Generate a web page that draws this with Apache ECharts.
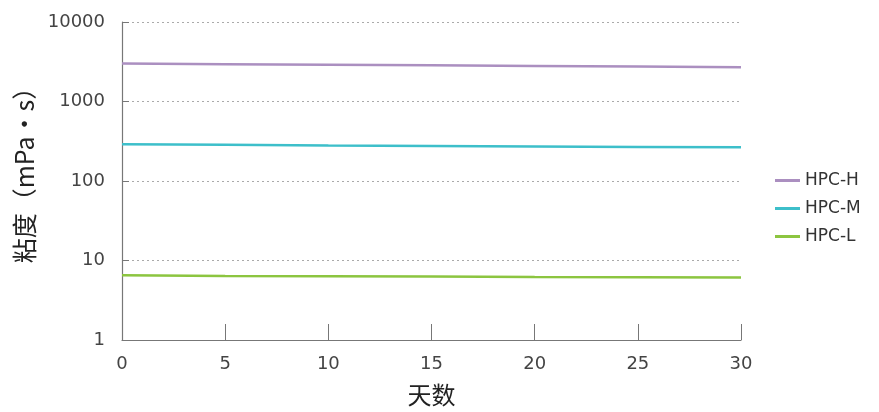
<!DOCTYPE html>
<html>
<head>
<meta charset="utf-8">
<script src="https://cdn.jsdelivr.net/npm/echarts@6/dist/echarts.min.js"></script>
<style>
html,body{margin:0;padding:0;background:#fff;}
#chart{width:879px;height:412px;}
</style>
</head>
<body>
<div id="chart"></div>
<script>
// Viscosity over storage time for three HPC grades
const days = [0, 5, 10, 15, 20, 25, 30];
const hpcH = [3000, 2950, 2900, 2850, 2800, 2750, 2700];
const hpcM = [290, 285, 280, 276, 272, 268, 265];
const hpcL = [6.5, 6.4, 6.35, 6.3, 6.2, 6.15, 6.1];
const seriesNames = ['HPC-H', 'HPC-M', 'HPC-L'];
const seriesColors = ['#ab8fc0', '#3dbfca', '#8cc540'];

const cjkFont = '"Noto Sans CJK SC", sans-serif';
const latinFont = '"DejaVu Sans", "Liberation Sans", sans-serif';
const pairs = vals => days.map((d, i) => [d, vals[i]]);

const chart = echarts.init(document.getElementById('chart'));
chart.setOption({
  animation: false,
  textStyle: { fontFamily: cjkFont },
  grid: { left: 122, right: 138, top: 22, bottom: 70, containLabel: false },
  legend: {
    orient: 'vertical',
    left: 775,
    top: 172,
    padding: 0,
    itemWidth: 25,
    itemHeight: 3,
    itemGap: 11,
    icon: 'rect',
    textStyle: { fontSize: 17, color: '#333', fontFamily: latinFont },
    data: seriesNames
  },
  xAxis: {
    type: 'value',
    min: 0, max: 30, interval: 5,
    name: '天数',
    nameLocation: 'middle',
    nameGap: 43,
    nameTextStyle: { fontSize: 24, color: '#222' },
    axisLine: { lineStyle: { color: '#777', width: 1.2 } },
    axisTick: { show: true, inside: true, length: 16, lineStyle: { color: '#777' } },
    axisLabel: { fontSize: 18, color: '#444', margin: 15, fontFamily: latinFont },
    splitLine: { show: false }
  },
  yAxis: {
    type: 'log',
    logBase: 10,
    min: 1, max: 10000,
    name: '粘度（mPa・s）',
    nameLocation: 'middle',
    nameRotate: 90,
    nameGap: 85,
    nameTextStyle: { fontSize: 25, color: '#222', padding: [0, 0, 0, 24] },
    axisLine: { show: true, lineStyle: { color: '#777', width: 1.2 } },
    axisTick: { show: true, inside: true, length: 7, lineStyle: { color: '#777' } },
    axisLabel: {
      fontSize: 18, color: '#444', margin: 17, fontFamily: latinFont,
      formatter: v => String(v)
    },
    splitLine: { show: true, lineStyle: { color: '#aaa', type: [2, 3], width: 1 } }
  },
  series: [hpcH, hpcM, hpcL].map((vals, i) => ({
    name: seriesNames[i],
    type: 'line',
    data: pairs(vals),
    showSymbol: false,
    symbol: 'none',
    lineStyle: { color: seriesColors[i], width: 2.5 },
    itemStyle: { color: seriesColors[i] }
  }))
});
</script>
</body>
</html>
